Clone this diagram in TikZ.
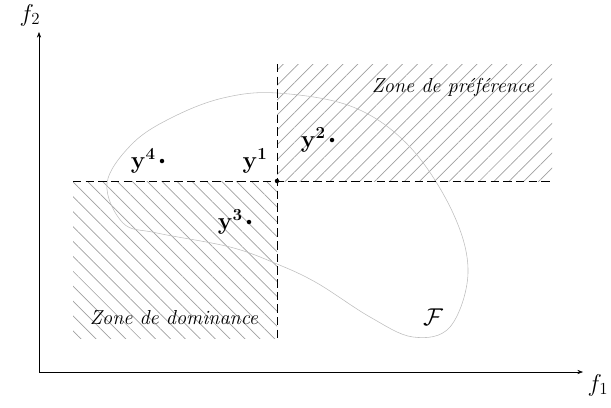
\documentclass[tikz,border=0pt]{standalone}
\usepackage{amsmath, amssymb}
\usepackage{xcolor}
\usepackage{tikz}
\usetikzlibrary{arrows.meta, positioning, patterns.meta}
\definecolor{hachure}{RGB}{160, 160, 160}
\definecolor{contour}{RGB}{190, 190, 190}

\begin{document}
\begin{tikzpicture}[>={Stealth[length=4pt, width=3pt]},
   axe/.style={->, thin},
   seuil/.style={thin, dash pattern=on 6pt off 3pt},
   hachpref/.style={pattern={Lines[angle=45, distance=7.5pt, line width=0.5pt]}, pattern color=hachure},
   hachdom/.style={pattern={Lines[angle=-45, distance=7.5pt, line width=0.5pt]}, pattern color=hachure},
   pt/.style={circle, fill, inner sep=0pt, minimum size=3.2pt},
   lbl/.style={font=\LARGE, inner sep=1pt},
   zone/.style={font=\Large\itshape, inner sep=1pt}]
  \useasboundingbox (-0.975,-0.875) rectangle (14.3,9.3);
  % zones hachurees
  \fill[hachpref] (5.95,4.775) rectangle (12.825,7.7);
  \fill[hachdom] (0.85,0.85) rectangle (5.95,4.775);
  % ensemble realisable
  \draw[contour, thin] plot[smooth cycle, tension=0.6] coordinates {
    (5.95,6.975) (7.85,6.625) (9.275,5.625) (10.35,3.975) (10.725,2.475)
    (10.275,1.125) (9.35,0.875) (8.275,1.375) (6.95,2.225) (5.95,2.7)
    (4.775,3.125) (2.95,3.475) (2.1,3.725) (1.7,4.725) (2.35,5.725)
    (3.35,6.375) (4.6,6.85)};
  \node[font=\LARGE] (F) at (9.85,1.375) {$\mathcal{F}$};
  % axes
  \coordinate (O) at (0,0);
  \coordinate (xmax) at (13.6,0);
  \coordinate (ymax) at (0,8.5);
  \draw[axe] (O) -- (xmax);
  \draw[axe] (O) -- (ymax);
  \node[lbl] (f1) at (13.975,-0.325) {$f_1$};
  \node[lbl] (f2) at (-0.225,8.925) {$f_2$};
  % point de reference et seuils
  \node[pt] (y1) at (5.95,4.775) {};
  \coordinate (gauche) at (0.85,4.775);
  \coordinate (droite) at (12.825,4.775);
  \coordinate (haut) at (5.95,7.7);
  \coordinate (bas) at (5.95,0.85);
  \draw[seuil] (gauche) -- (droite);
  \draw[seuil] (haut) -- (bas);
  % solutions
  \node[pt] (y2) at (7.325,5.8) {};
  \node[pt] (y3) at (5.25,3.75) {};
  \node[pt] (y4) at (3.075,5.275) {};
  \node[lbl, above left=0.12cm and 0.15cm of y1] (l1) {$\mathbf{y^1}$};
  \node[lbl, left=0.05cm of y2] (l2) {$\mathbf{y^2}$};
  \node[lbl, left=0.05cm of y3] (l3) {$\mathbf{y^3}$};
  \node[lbl, left=0.05cm of y4] (l4) {$\mathbf{y^4}$};
  % zones
  \node[zone] (pref) at (10.35,7.125) {Zone de préférence};
  \node[zone] (dom) at (3.375,1.35) {Zone de dominance};
\end{tikzpicture}
\end{document}
